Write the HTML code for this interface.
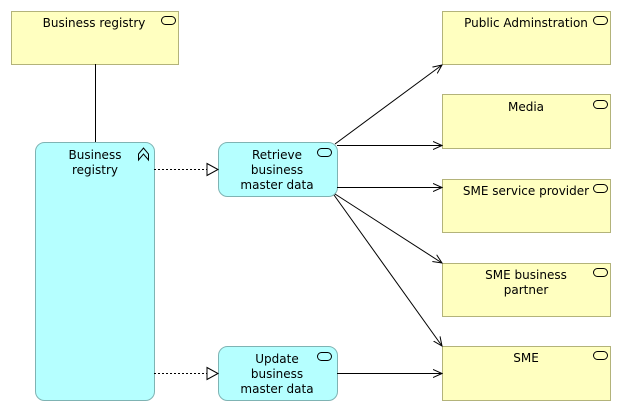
<!DOCTYPE html>
<html><head><style>
body{margin:0;background:#fff;width:621px;height:411px;overflow:hidden;font-family:"DejaVu Sans","Liberation Sans",sans-serif;}
</style></head><body>
<svg width="621" height="411" xmlns="http://www.w3.org/2000/svg" font-family="DejaVu Sans, Liberation Sans, sans-serif" font-size="12" fill="#000">
<defs>
<marker id="a" markerWidth="10" markerHeight="10" refX="9" refY="5" orient="auto" markerUnits="userSpaceOnUse"><path d="M0,1 L9,5 L0,9" fill="none" stroke="#000"/></marker>
<marker id="t" markerWidth="14" markerHeight="14" refX="12" refY="7" orient="auto" markerUnits="userSpaceOnUse"><path d="M1,1 L12,7 L1,13 Z" fill="#fff" stroke="#000"/></marker>
</defs>
<g stroke="#b3b37a" fill="#ffffc0">
<rect x="11.5" y="11.5" width="167" height="53"/>
<rect x="442.5" y="11.5" width="168" height="53"/>
<rect x="442.5" y="94.5" width="168" height="54"/>
<rect x="442.5" y="179.5" width="168" height="53"/>
<rect x="442.5" y="263.5" width="168" height="53"/>
<rect x="442.5" y="346.5" width="168" height="54"/>
</g>
<g fill="none" stroke="#000">
<rect x="161.5" y="16.5" width="14" height="8" rx="4"/>
<rect x="593.5" y="16.5" width="14" height="8" rx="4"/>
<rect x="593.5" y="100.5" width="14" height="8" rx="4"/>
<rect x="593.5" y="184.5" width="14" height="8" rx="4"/>
<rect x="593.5" y="268.5" width="14" height="8" rx="4"/>
<rect x="593.5" y="351.5" width="14" height="8" rx="4"/>
</g>
<g stroke="#7fb3b3" fill="#b5ffff">
<rect x="35.5" y="142.5" width="119" height="258" rx="9"/>
<rect x="218.5" y="142.5" width="119" height="54" rx="9"/>
<rect x="218.5" y="346.5" width="119" height="54" rx="9"/>
</g>
<g fill="none" stroke="#000">
<rect x="317.5" y="148.5" width="14" height="8" rx="4"/>
<rect x="317.5" y="352.5" width="14" height="8" rx="4"/>
<path d="M138.5,154 L143.5,148 L148.5,154 L148.5,160 L143.5,154 L138.5,160 Z"/>
<line x1="95.5" y1="64" x2="95.5" y2="142"/>
<line x1="154" y1="169.5" x2="218" y2="169.5" stroke-dasharray="2,2" marker-end="url(#t)"/>
<line x1="154" y1="373.5" x2="218" y2="373.5" stroke-dasharray="2,2" marker-end="url(#t)"/>
<line x1="335" y1="144" x2="442" y2="65" marker-end="url(#a)"/>
<line x1="337" y1="145.5" x2="442" y2="145.5" marker-end="url(#a)"/>
<line x1="337" y1="187.5" x2="442" y2="187.5" marker-end="url(#a)"/>
<line x1="335" y1="194" x2="442" y2="263" marker-end="url(#a)"/>
<line x1="334" y1="195" x2="442" y2="346" marker-end="url(#a)"/>
<line x1="337" y1="373.5" x2="442" y2="373.5" marker-end="url(#a)"/>
</g>
<g text-anchor="middle">
<text x="94" y="27">Business registry</text>
<text x="526" y="27">Public Adminstration</text>
<text x="526" y="111">Media</text>
<text x="526" y="195">SME service provider</text>
<text x="526" y="279">SME business</text>
<text x="526" y="294">partner</text>
<text x="526" y="362">SME</text>
<text x="95" y="159">Business</text>
<text x="95" y="174">registry</text>
<text x="277" y="159">Retrieve</text>
<text x="277" y="174">business</text>
<text x="277" y="189">master data</text>
<text x="277" y="363">Update</text>
<text x="277" y="378">business</text>
<text x="277" y="393">master data</text>
</g>
</svg>
</body></html>
